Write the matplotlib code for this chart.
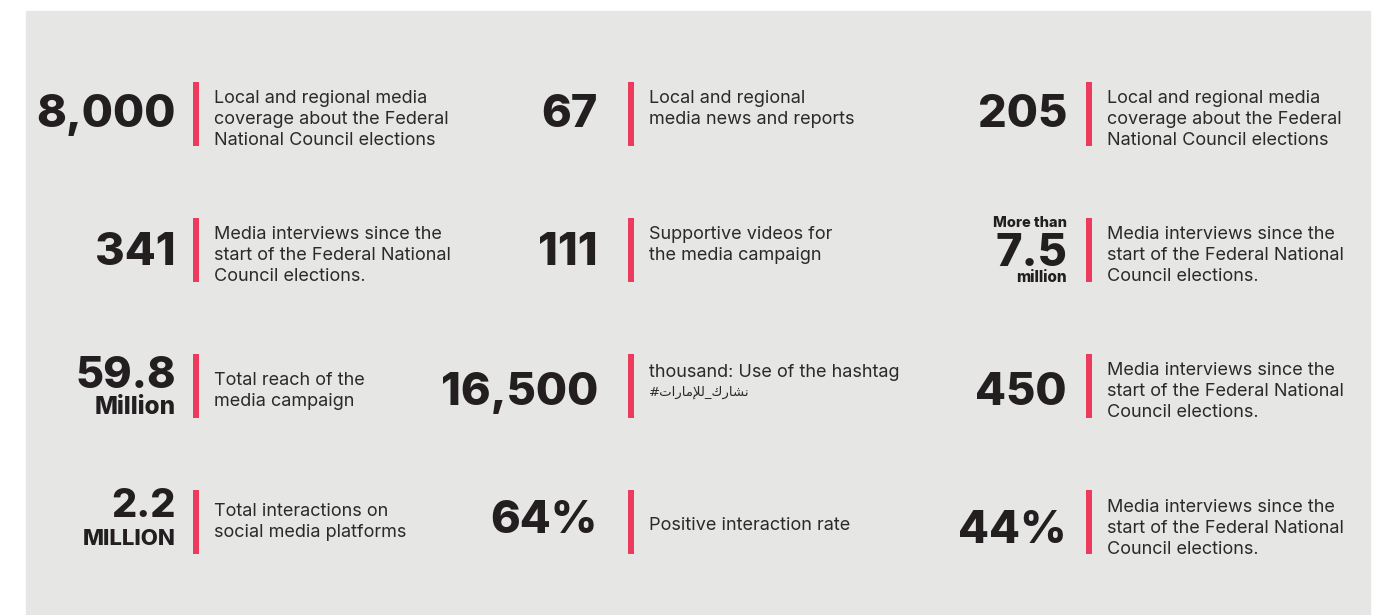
import matplotlib.pyplot as plt
from matplotlib.patches import Rectangle

# Data (row-major, 3 columns per row)
numbers = ["8,000", "67", "205",
           "341", "111", "7.5",
           "59.8", "16,500", "450",
           "2.2", "64%", "44%"]
prefixes = ["", "", "", "", "", "More than", "", "", "", "", "", ""]
suffixes = ["", "", "", "", "", "million", "Million", "", "", "MILLION", "", ""]
descriptions = [
    "Local and regional media\ncoverage about the Federal\nNational Council elections",
    "Local and regional\nmedia news and reports",
    "Local and regional media\ncoverage about the Federal\nNational Council elections",
    "Media interviews since the\nstart of the Federal National\nCouncil elections.",
    "Supportive videos for\nthe media campaign",
    "Media interviews since the\nstart of the Federal National\nCouncil elections.",
    "Total reach of the\nmedia campaign",
    "thousand: Use of the hashtag",
    "Media interviews since the\nstart of the Federal National\nCouncil elections.",
    "Total interactions on\nsocial media platforms",
    "Positive interaction rate",
    "Media interviews since the\nstart of the Federal National\nCouncil elections.",
]
# hashtag نشارك_للإمارات# written in presentation forms, visual order
hashtag = "#\uFE95\uFE8D\uFEAD\uFE8E\uFEE3\uFEFA\uFEDF_\uFED9\uFEAD\uFE8E\uFEB8\uFEE7"

# Layout (pixel coordinates)
num_right = [176, 598, 1067]
bar_x = [193, 628, 1086]
text_x = [214, 649, 1107]
row_top = [82, 218, 354, 490]
bar_h = 64
line_gap = 21
num_size = [32.5] * 12
num_size[6] = 31
num_size[9] = 28.5
num_base = [13, 13, 13, 15, 15, 16, 2, 19, 19, 0, 11, 21]
desc_base = [21, 21, 21, 21, 21, 21, 31, 23, 21, 26, 40, 22]

BG = "#e6e6e5"
RED = "#ee3a5c"
DARK = "#231f20"
TXT = "#2a2a2a"

fig = plt.figure(figsize=(13.79, 6.15), dpi=100)
ax = fig.add_axes([0, 0, 1, 1])
ax.set_xlim(0, 1379)
ax.set_ylim(615, 0)
ax.axis("off")
ax.add_patch(Rectangle((26, 11), 1344, 610, color=BG, zorder=0))

for i in range(12):
    r, c = divmod(i, 3)
    top = row_top[r]
    ax.add_patch(Rectangle((bar_x[c], top), 5.5, bar_h, color=RED, lw=0))

    base = top + bar_h / 2 + num_base[i]
    if i == 6 or i == 9:
        base = top + (34 if i == 6 else 27)
    ax.text(num_right[c], base, numbers[i], ha="right", va="baseline",
            fontsize=num_size[i], fontweight=800, family="Inter", color=DARK)
    if prefixes[i]:
        ax.text(num_right[c], top + 9, prefixes[i], ha="right", va="baseline",
                fontsize=10.5, fontweight=800, family="Inter", color=DARK)
    if suffixes[i]:
        sz = 11 if i == 5 else (17.5 if i == 6 else 16)
        sb = {5: 64, 6: 60, 9: 55}[i]
        ax.text(num_right[c], top + sb, suffixes[i], ha="right", va="baseline",
                fontsize=sz, fontweight=800, family="Inter", color=DARK)

    for k, line in enumerate(descriptions[i].split("\n")):
        ax.text(text_x[c], top + desc_base[i] + k * line_gap, line, ha="left",
                va="baseline", fontsize=13, family="Inter", color=TXT)
    if i == 7:
        ax.text(text_x[c], top + desc_base[i] + 19, hashtag, ha="left",
                va="baseline", fontsize=9.5, family=["DejaVu Sans"], color=TXT)

fig.savefig("out.png", dpi=100, facecolor="white")
